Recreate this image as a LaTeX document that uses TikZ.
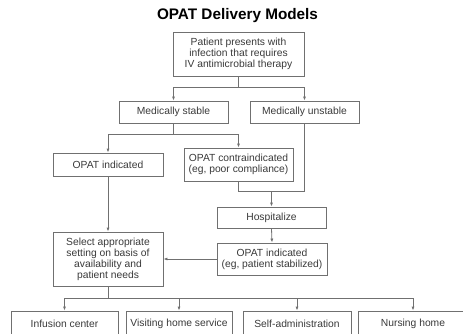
\documentclass[tikz,border=0pt]{standalone}
\usepackage{fontspec}
\setmainfont{Liberation Sans}
\usetikzlibrary{arrows.meta}
\definecolor{linec}{HTML}{707070}
\definecolor{textc}{HTML}{3A3A3A}
\begin{document}
\begin{tikzpicture}[x=1pt,y=-1pt,
  box/.style={draw=linec, line width=0.8pt, rectangle, inner sep=0pt, align=center,
    text=textc, font=\fontsize{10.3}{11}\selectfont},
  conn/.style={draw=linec, line width=0.8pt},
  arr/.style={conn, -{Latex[length=4pt,width=3pt]}}]
\useasboundingbox (0,0) rectangle (463,333);
\clip (0,0) rectangle (463,333);
\fill[white] (0,0) rectangle (463,333);
\node[font=\bfseries\fontsize{15.3}{16}\selectfont, text=black] (title) at (237.5,16) {OPAT Delivery Models};
\node[box, minimum width=131pt, minimum height=44pt] (p) at (238.5,54) {Patient presents with\\infection that requires\\IV antimicrobial therapy};
\node[box, minimum width=109pt, minimum height=22pt] (ms) at (173.5,112) {Medically stable};
\node[box, minimum width=109pt, minimum height=22pt] (mu) at (304.5,112) {Medically unstable};
\node[box, minimum width=110pt, minimum height=23pt] (oi) at (108,164.5) {OPAT indicated};
\node[box, minimum width=109pt, minimum height=33pt] (oc) at (238.5,164.5) {OPAT contraindicated\\(eg, poor compliance)};
\node[box, minimum width=109pt, minimum height=21pt] (h) at (271.5,217.5) {Hospitalize};
\node[box, minimum width=110pt, minimum height=32pt] (oi2) at (272,259) {OPAT indicated\\(eg, patient stabilized)};
\node[box, minimum width=110pt, minimum height=54pt] (sel) at (108,259) {Select appropriate\\setting on basis of\\availability and\\patient needs};
\node[box, minimum width=107pt, minimum height=26pt] (ic) at (64.5,324) {Infusion center};
\node[box, minimum width=106pt, minimum height=26pt] (vh) at (179,324) {Visiting home service};
\node[box, minimum width=108pt, minimum height=26pt] (sa) at (297,324) {Self-administration};
\node[box, minimum width=110pt, minimum height=26pt] (nh) at (413,324) {Nursing home};
\coordinate (j1) at (238.5,87);
\coordinate (j2) at (173.5,134);
\coordinate (j3) at (271.5,191);
\coordinate (j5) at (108,298);
\draw[conn] (p.south) -- (j1);
\draw[arr] (j1) -| (ms.north);
\draw[arr] (j1) -| (mu.north);
\draw[conn] (ms.south) -- (j2);
\draw[arr] (j2) -| (oi.north);
\draw[arr] (j2) -| (oc.north);
\draw[conn] (mu.south) |- (j3);
\draw[conn] (oc.south) |- (j3);
\draw[arr] (j3) -- (h.north);
\draw[arr] (h.south) -- (oi2.north);
\draw[arr] (oi2.west) -- (sel.east);
\draw[arr] (oi.south) -- (sel.north);
\draw[conn] (sel.south) -- (j5);
\draw[arr] (j5) -| (ic.north);
\draw[arr] (j5) -| (vh.north);
\draw[arr] (j5) -| (sa.north);
\draw[arr] (j5) -| (nh.north);
\end{tikzpicture}
\end{document}
